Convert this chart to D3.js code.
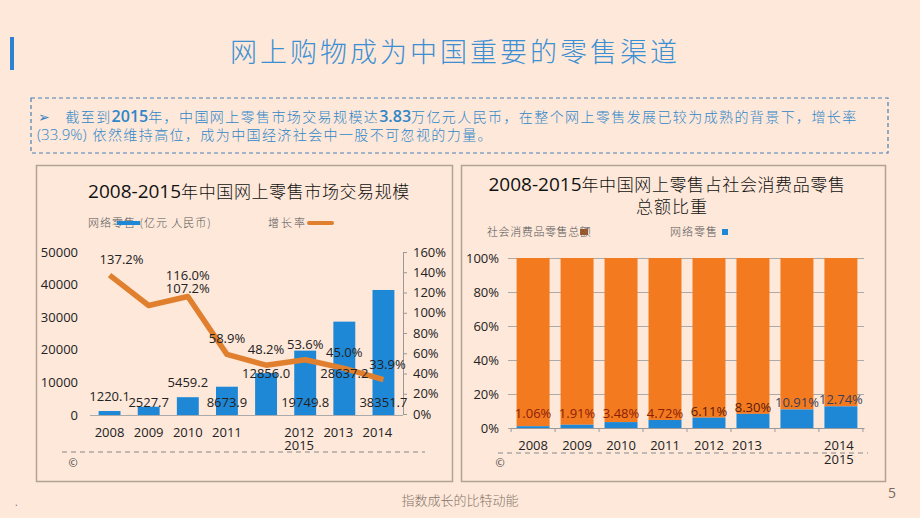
<!DOCTYPE html>
<html><head><meta charset="utf-8">
<script src="https://cdn.jsdelivr.net/npm/d3@7"></script>
<style>
html,body{margin:0;padding:0;background:#fde8da;}
svg{display:block;}
</style></head>
<body>
<svg id="c" width="920" height="518"></svg>
<script>
// ---------- data ----------
const pageTitle = "网上购物成为中国重要的零售渠道";
const years = ["2008","2009","2010","2011","2012","2013","2014","2015"];
const retailOnline = [1220.1, 2527.7, 5459.2, 8673.9, 12856.0, 19749.8, 28637.2, 38351.7];
const growthRate = [137.2, 107.2, 116.0, 58.9, 48.2, 53.6, 45.0, 33.9];
const leftXLabels = ["2008","2009","2010","2011","","2012\n2015","2013","2014"];
const leftYTicks = [0,10000,20000,30000,40000,50000];
const rightYTicksLeftChart = [0,20,40,60,80,100,120,140,160];
const onlineShare = [1.06, 1.91, 3.48, 4.72, 6.11, 8.30, 10.91, 12.74];
const rightXLabels = ["2008","2009","2010","2011","2012","2013","","2014\n2015"];
const shareTicks = [0,20,40,60,80,100];

const W = 920, H = 518;
const svg = d3.select("#c");
const CJK = "'Noto Sans CJK SC','Noto Sans',sans-serif";
const LAT = "'Open Sans','Noto Sans',sans-serif";
const BLUE = "#1f88d6", ORANGE = "#f47a20", LINEOR = "#e0802e";

svg.append("rect").attr("width",W).attr("height",H).attr("fill","#fde8da");

// title
svg.append("rect").attr("x",10).attr("y",37).attr("width",4).attr("height",33).attr("fill","#2f82d2");
svg.append("text").attr("x",455).attr("y",62).attr("text-anchor","middle")
  .attr("font-family",CJK).attr("font-weight",300).attr("font-size",27).attr("letter-spacing",3)
  .attr("fill","#3c8fd2").text(pageTitle);

// text box
svg.append("rect").attr("x",31).attr("y",98).attr("width",857).attr("height",55)
  .attr("fill","none").attr("stroke","#4a7fb5").attr("stroke-width",1.2).attr("stroke-dasharray","4,3");
const t1 = svg.append("text").attr("x",38).attr("y",122).attr("font-family",CJK).attr("font-size",14)
  .attr("font-weight",300).attr("fill","#2f86c8").attr("letter-spacing",1.4);
t1.append("tspan").attr("fill","#3a7fc0").text("➢");
t1.append("tspan").attr("dx",14).text("截至到");
t1.append("tspan").attr("font-family",LAT).attr("font-size",16).attr("font-weight",600).attr("letter-spacing",0).text("2015");
t1.append("tspan").text("年，中国网上零售市场交易规模达");
t1.append("tspan").attr("font-family",LAT).attr("font-size",16).attr("font-weight",600).attr("letter-spacing",0).text("3.83");
t1.append("tspan").text("万亿元人民币，在整个网上零售发展已较为成熟的背景下，增长率");
const t2 = svg.append("text").attr("x",37).attr("y",140).attr("font-family",CJK).attr("font-size",14)
  .attr("font-weight",300).attr("fill","#2f86c8").attr("letter-spacing",1.4);
t2.append("tspan").attr("font-family",LAT).attr("font-size",15).attr("letter-spacing",0).text("(33.9%)");
t2.append("tspan").attr("dx",6).text("依然维持高位，成为中国经济社会中一股不可忽视的力量。");

// panels
svg.append("rect").attr("x",36.5).attr("y",165.5).attr("width",416).attr("height",316)
  .attr("fill","none").attr("stroke","#b3a394").attr("stroke-width",1.5);
svg.append("rect").attr("x",461.5).attr("y",165.5).attr("width",424).attr("height",316)
  .attr("fill","none").attr("stroke","#b3a394").attr("stroke-width",1.5);

// ---------- left chart ----------
{
  const g = svg.append("g");
  const lt = g.append("text").attr("x",249).attr("y",198).attr("text-anchor","middle").attr("fill","#111");
  lt.append("tspan").attr("font-family",LAT).attr("font-size",19).text("2008-2015");
  lt.append("tspan").attr("font-family",CJK).attr("font-size",17).attr("font-weight",300).attr("letter-spacing",0.6).text("年中国网上零售市场交易规模");

  // legend
  g.append("text").attr("x",88).attr("y",227).attr("font-family",CJK).attr("font-size",11).attr("font-weight",300)
    .attr("fill","#555").attr("letter-spacing",1).text("网络零售 (亿元 人民币)");
  g.append("rect").attr("x",117).attr("y",221).attr("width",23).attr("height",4).attr("fill",BLUE);
  g.append("text").attr("x",268).attr("y",227).attr("font-family",CJK).attr("font-size",11).attr("font-weight",300)
    .attr("fill","#555").attr("letter-spacing",2).text("增长率");
  g.append("line").attr("x1",309).attr("x2",332).attr("y1",223).attr("y2",223).attr("stroke",LINEOR).attr("stroke-width",4).attr("stroke-linecap","round");

  const x = d3.scaleBand().domain(years).range([90,403]).paddingInner(0.44).paddingOuter(0.22);
  const y = d3.scaleLinear().domain([0,50000]).range([415,252]);
  const y2 = d3.scaleLinear().domain([0,160]).range([414,252]);

  // left axis labels
  const ya = g.append("g").attr("transform","translate(82,0)")
    .call(d3.axisLeft(y).tickValues(leftYTicks).tickSize(0).tickPadding(4).tickFormat(d3.format("d")));
  ya.select(".domain").remove();
  ya.selectAll("text").attr("font-family",LAT).attr("font-size",13).attr("fill","#222");

  // right axis
  const ra = g.append("g").attr("transform","translate(403,0)")
    .call(d3.axisRight(y2).tickValues(rightYTicksLeftChart).tickSize(4).tickPadding(6).tickFormat(d=>d+"%"));
  ra.select(".domain").attr("stroke","#999");
  ra.selectAll(".tick line").attr("stroke","#999");
  ra.selectAll("text").attr("font-family",LAT).attr("font-size",13).attr("fill","#222");

  // bars
  g.selectAll("rect.bar").data(retailOnline).join("rect").attr("class","bar")
    .attr("x",(d,i)=>x(years[i])).attr("width",x.bandwidth())
    .attr("y",d=>y(d)).attr("height",d=>y(0)-y(d)).attr("fill",BLUE);

  // bottom axis
  g.append("line").attr("x1",90).attr("x2",403).attr("y1",415.5).attr("y2",415.5).attr("stroke","#aaa");

  // line
  const cx = i => x(years[i]) + x.bandwidth()/2;
  g.append("path").datum(growthRate)
    .attr("d", d3.line().x((d,i)=>cx(i)).y(d=>y2(d)))
    .attr("fill","none").attr("stroke",LINEOR).attr("stroke-width",5.5).attr("stroke-linejoin","round");

  // bar value labels
  g.selectAll("text.bv").data(retailOnline).join("text").attr("class","bv")
    .attr("x",(d,i)=>cx(i)).attr("text-anchor","middle")
    .attr("y",(d,i)=> (i%2===1 ? y(0)-8 : Math.max(y(d)-10, y(0)-37)))
    .attr("font-family",LAT).attr("font-size",13).attr("fill","#222")
    .text(d=>d3.format(".1f")(d));

  // growth labels
  growthRate.forEach((v,i)=>{
    let px = cx(i), py = y2(v) - 11;
    if (i===0) px += 12;
    if (i===1) { px = cx(2); py = y2(growthRate[2]) - 4; }
    if (i===2) { py = y2(v) - 17; }
    if (i===7) px += 4;
    g.append("text").attr("x",px).attr("y",py).attr("text-anchor","middle")
      .attr("font-family",LAT).attr("font-size",13).attr("fill","#222").text(v.toFixed(1)+"%");
  });

  // x labels
  leftXLabels.forEach((lab,i)=>{
    const parts = lab.split("\n");
    parts.forEach((p,k)=>{
      g.append("text").attr("x",cx(i)-(i>=4?6:0)).attr("y",437+k*13).attr("text-anchor","middle")
        .attr("font-family",LAT).attr("font-size",13).attr("fill","#222").text(p);
    });
  });

  g.append("line").attr("x1",62).attr("x2",425).attr("y1",452).attr("y2",452)
    .attr("stroke","#888").attr("stroke-dasharray","5,4");
  g.append("text").attr("x",73).attr("y",467).attr("text-anchor","middle").attr("font-family",LAT)
    .attr("font-size",11).attr("fill","#444").text("©");
}

// ---------- right chart ----------
{
  const g = svg.append("g");
  const t = g.append("text").attr("x",667).attr("y",191).attr("text-anchor","middle").attr("fill","#111");
  t.append("tspan").attr("font-family",LAT).attr("font-size",19).text("2008-2015");
  t.append("tspan").attr("font-family",CJK).attr("font-size",17).attr("font-weight",300).attr("letter-spacing",0.6).text("年中国网上零售占社会消费品零售");
  g.append("text").attr("x",672).attr("y",213).attr("text-anchor","middle").attr("font-family",CJK)
    .attr("font-size",17).attr("font-weight",300).attr("letter-spacing",1).attr("fill","#111").text("总额比重");

  g.append("text").attr("x",487).attr("y",236).attr("font-family",CJK).attr("font-size",11).attr("font-weight",300)
    .attr("fill","#555").attr("letter-spacing",0.6).text("社会消费品零售总额");
  g.append("rect").attr("x",580).attr("y",229).attr("width",8).attr("height",6).attr("fill","#8b4a1a").attr("opacity",0.85);
  g.append("text").attr("x",670).attr("y",236).attr("font-family",CJK).attr("font-size",11).attr("font-weight",300)
    .attr("fill","#555").attr("letter-spacing",1).text("网络零售");
  g.append("rect").attr("x",722).attr("y",229).attr("width",6).attr("height",6).attr("fill",BLUE);

  const x = d3.scaleBand().domain(years).range([510,864]).paddingInner(0.25).paddingOuter(0.15);
  const y = d3.scaleLinear().domain([0,100]).range([428,258]);

  // gridlines
  g.selectAll("line.gr").data(shareTicks).join("line").attr("class","gr")
    .attr("x1",508).attr("x2",864).attr("y1",d=>y(d)+0.5).attr("y2",d=>y(d)+0.5).attr("stroke","#aaa");
  const ya = g.append("g").attr("transform","translate(505,0)")
    .call(d3.axisLeft(y).tickValues(shareTicks).tickSize(0).tickPadding(6).tickFormat(d=>d+"%"));
  ya.select(".domain").remove();
  ya.selectAll("text").attr("font-family",LAT).attr("font-size",13).attr("fill","#222");

  // stacked bars
  g.selectAll("rect.tot").data(onlineShare).join("rect").attr("class","tot")
    .attr("x",(d,i)=>x(years[i])).attr("width",x.bandwidth())
    .attr("y",y(100)).attr("height",d=>y(d)-y(100)).attr("fill",ORANGE);
  g.selectAll("rect.on").data(onlineShare).join("rect").attr("class","on")
    .attr("x",(d,i)=>x(years[i])).attr("width",x.bandwidth())
    .attr("y",d=>y(d)).attr("height",d=>y(0)-y(d)).attr("fill",BLUE);

  // bottom axis
  const xa = g.append("g").attr("transform","translate(0,428)")
    .call(d3.axisBottom(x).tickSize(0).tickFormat(""));
  xa.select(".domain").attr("stroke","#999");
  const step = x.step();
  years.concat(["end"]).forEach((d,i)=>{
    const xx = 510 + x.paddingOuter()*step - x.paddingInner()*step/2 + i*step;
    g.append("line").attr("x1",xx).attr("x2",xx).attr("y1",428).attr("y2",432).attr("stroke","#999");
  });

  // value labels
  g.selectAll("text.sv").data(onlineShare).join("text").attr("class","sv")
    .attr("x",(d,i)=>x(years[i])+x.bandwidth()/2).attr("y",d=>Math.min(y(d),y(0)-8)-2)
    .attr("text-anchor","middle").attr("font-family",LAT).attr("font-size",13)
    .attr("fill",(d,i)=> i>=6 ? "#3a3f55" : (i>=4 ? "#5a1a08" : "#8a1e08"))
    .text(d=>d.toFixed(2)+"%");

  // x labels
  rightXLabels.forEach((lab,i)=>{
    const parts = lab.split("\n");
    const cxp = x(years[i]) + x.bandwidth()/2 - (i===5?6:0) - (i===7?2:0);
    parts.forEach((p,k)=>{
      g.append("text").attr("x",cxp).attr("y",450+k*14).attr("text-anchor","middle")
        .attr("font-family",LAT).attr("font-size",13).attr("fill","#222").text(p);
    });
  });

  g.append("line").attr("x1",498).attr("x2",868).attr("y1",453).attr("y2",453)
    .attr("stroke","#888").attr("stroke-dasharray","5,4");
  g.append("text").attr("x",500).attr("y",467).attr("text-anchor","middle").attr("font-family",LAT)
    .attr("font-size",11).attr("fill","#444").text("©");
}

// footer
svg.append("text").attr("x",460).attr("y",505).attr("text-anchor","middle").attr("font-family",CJK)
  .attr("font-size",13).attr("font-weight",300).attr("fill","#857468").text("指数成长的比特动能");
svg.append("text").attr("x",892).attr("y",498).attr("text-anchor","middle").attr("font-family",LAT)
  .attr("font-size",14).attr("fill","#7a6a60").text("5");
svg.append("text").attr("x",15).attr("y",506).attr("font-family",LAT)
  .attr("font-size",10).attr("fill","#7a6a60").text(".");
</script>
</body></html>
